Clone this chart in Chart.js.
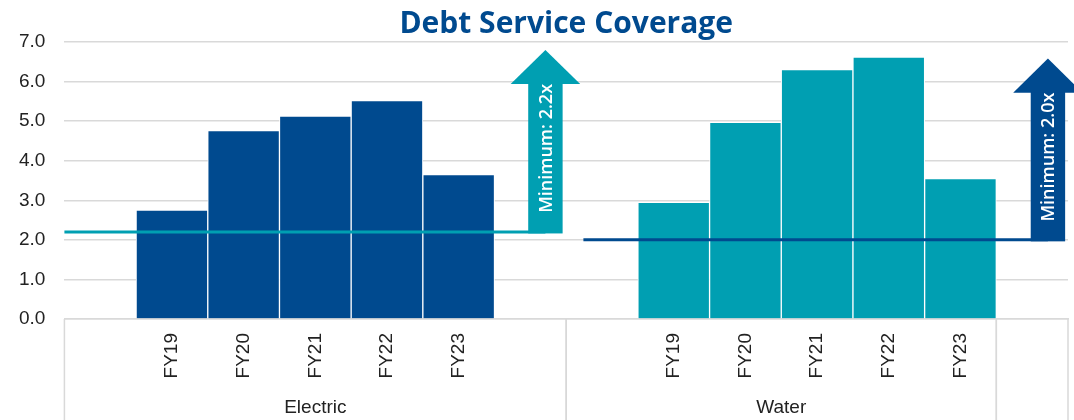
<!DOCTYPE html>
<html>
<head>
<meta charset="utf-8">
<script src="https://cdn.jsdelivr.net/npm/chart.js@4"></script>
<style>
  html, body { margin: 0; padding: 0; background: #fff; }
  #wrap { width: 1074px; height: 420px; position: relative; }
</style>
</head>
<body>
<div id="wrap"><canvas id="dsc"></canvas></div>
<script>
const years = ['FY19', 'FY20', 'FY21', 'FY22', 'FY23'];
const groups = ['Electric', 'Water'];
const electric = [2.75, 4.76, 5.13, 5.52, 3.65];
const water = [2.95, 4.97, 6.30, 6.62, 3.55];
const minimums = [2.2, 2.0];
const minimumLabels = ['Minimum: 2.2x', 'Minimum: 2.0x'];
const yTicks = [0, 1, 2, 3, 4, 5, 6, 7];

const navy = '#004a8f';
const teal = '#009fb2';
const gridColor = '#d9d9d9';
const textColor = '#222';

// empty slots around each group leave room for the arrows
const labels = ['', ...years, '', '', ...years, ''];
const pad = n => new Array(n).fill(null);
const electricData = [null, ...electric, ...pad(8)];
const waterData = [...pad(8), ...water, null];

// group label row under the years, with separators between groups
const groupPlugin = {
    id: 'groups',
    afterDraw(chart, args, opts) {
        const ctx = chart.ctx;
        const x = chart.scales.x;
        const top = chart.chartArea.bottom;
        ctx.save();
        ctx.strokeStyle = gridColor;
        ctx.lineWidth = 1.5;
        let start = -0.5;
        opts.spans.forEach((n, i) => {
            const end = start + n;
            const x0 = x.getPixelForValue(start);
            const x1 = x.getPixelForValue(end);
            [x0, x1].forEach(px => {
                ctx.beginPath();
                ctx.moveTo(px, top);
                ctx.lineTo(px, chart.height);
                ctx.stroke();
            });
            if (opts.names[i]) {
                ctx.fillStyle = textColor;
                ctx.font = '19px "Liberation Sans", Arial, sans-serif';
                ctx.textAlign = 'center';
                ctx.textBaseline = 'middle';
                ctx.fillText(opts.names[i], (x0 + x1) / 2, opts.y);
            }
            start = end;
        });
        ctx.restore();
    }
};

// minimum coverage lines with the up arrows
const minimumPlugin = {
    id: 'minimums',
    afterDatasetsDraw(chart, args, opts) {
        const ctx = chart.ctx;
        const x = chart.scales.x;
        const y = chart.scales.y;
        const cw = x.getPixelForValue(1) - x.getPixelForValue(0);
        opts.marks.forEach((m, i) => {
            const yl = y.getPixelForValue(minimums[i]);
            const xs = x.getPixelForValue(m.from);
            const xc = x.getPixelForValue(m.at);
            const tip = y.getPixelForValue(m.tip);
            const base = y.getPixelForValue(m.tip - m.headLen);
            const sw = m.shaft * cw;
            const hw = m.head * cw;
            ctx.save();
            ctx.fillStyle = m.color;
            ctx.strokeStyle = m.color;
            ctx.lineWidth = 3;
            ctx.beginPath();
            ctx.moveTo(xs, yl);
            ctx.lineTo(xc, yl);
            ctx.stroke();
            ctx.fillRect(xc - sw / 2, base - 1, sw, yl + 1.5 - base + 1);
            ctx.beginPath();
            ctx.moveTo(xc, tip);
            ctx.lineTo(xc + hw / 2, base);
            ctx.lineTo(xc - hw / 2, base);
            ctx.closePath();
            ctx.fill();
            ctx.translate(xc, base);
            ctx.rotate(-Math.PI / 2);
            ctx.fillStyle = '#fff';
            ctx.font = '600 18px "Open Sans", sans-serif';
            ctx.textAlign = 'right';
            ctx.textBaseline = 'middle';
            ctx.fillText(minimumLabels[i], 0, 1);
            ctx.restore();
        });
    }
};

const tickFont = { family: '"Liberation Sans", Arial, sans-serif', size: 19 };

new Chart(document.getElementById('dsc'), {
    type: 'bar',
    data: {
        labels: labels,
        datasets: [
            {
                label: groups[0],
                data: electricData,
                backgroundColor: navy,
                borderColor: '#fff',
                borderWidth: { left: 1, right: 1, top: 1, bottom: 0 },
                grouped: false,
                categoryPercentage: 1,
                barPercentage: 1
            },
            {
                label: groups[1],
                data: waterData,
                backgroundColor: teal,
                borderColor: '#fff',
                borderWidth: { left: 1, right: 1, top: 1, bottom: 0 },
                grouped: false,
                categoryPercentage: 1,
                barPercentage: 1
            }
        ]
    },
    options: {
        responsive: true,
        maintainAspectRatio: false,
        animation: false,
        layout: { padding: { left: 0, right: 6, top: 0, bottom: 0 } },
        scales: {
            x: {
                grid: { display: false, drawTicks: false },
                border: { display: true, color: gridColor, width: 1.5 },
                ticks: {
                    autoSkip: false,
                    minRotation: 90,
                    maxRotation: 90,
                    padding: 14,
                    color: textColor,
                    font: tickFont
                },
                afterFit(scale) { scale.height = 101; }
            },
            y: {
                min: 0,
                max: 7,
                grid: { color: gridColor, lineWidth: 1.5, drawTicks: false },
                border: { display: false },
                afterBuildTicks(scale) { scale.ticks = yTicks.map(v => ({ value: v })); },
                ticks: {
                    padding: 19,
                    color: textColor,
                    font: tickFont,
                    callback: v => Number(v).toFixed(1)
                }
            }
        },
        plugins: {
            legend: { display: false },
            tooltip: { enabled: false },
            title: {
                display: true,
                text: 'Debt Service Coverage',
                color: navy,
                fullSize: false,
                font: { family: '"Open Sans", sans-serif', size: 30, weight: 'bold' },
                padding: { top: 6, bottom: 0 }
            },
            groups: { names: [...groups, ''], spans: [7, 6, 1], y: 408 },
            minimums: {
                marks: [
                    { from: -0.5, at: 6.21, tip: 6.8, headLen: 0.86, shaft: 0.48, head: 0.97, color: teal },
                    { from: 6.74, at: 13.22, tip: 6.58, headLen: 0.86, shaft: 0.48, head: 0.97, color: navy }
                ]
            }
        }
    },
    plugins: [minimumPlugin, groupPlugin]
});
</script>
</body>
</html>
